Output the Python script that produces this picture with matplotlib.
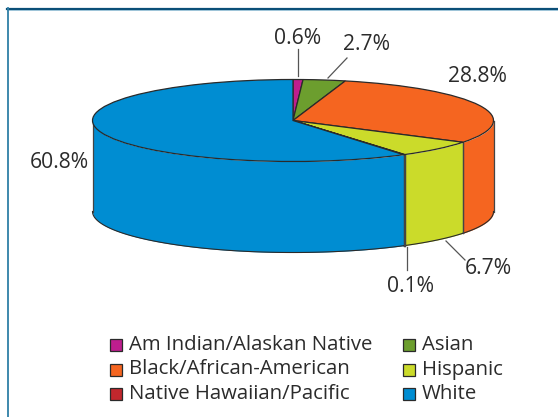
import numpy as np
import matplotlib
matplotlib.use("Agg")
import matplotlib.pyplot as plt
from matplotlib.patches import Rectangle

W, H = 558, 417
categories = ["Am Indian/Alaskan Native", "Asian", "Black/African-American",
              "Hispanic", "Native Hawaiian/Pacific", "White"]
# percentages printed on the chart
labelled = [0.6, 2.7, 28.8, 6.7, 0.1, 60.8]
# slice shares as actually drawn, estimated from the picture's geometry
drawn = [0.8, 3.4, 29.7, 6.7, 0.1, 59.3]
colors = ["#BE1E8E", "#6C9E2E", "#F56520", "#CBDB2A", "#C1272D", "#008DD2"]

CX, CY, RX, RY, DEPTH = 293, 120.5, 200.5, 41, 91
EDGE = "#2a2a2a"
TXT = "#2b2b2b"
FONT = "Open Sans"

fig = plt.figure(figsize=(W / 100, H / 100), dpi=100, facecolor="white")
ax = fig.add_axes([0, 0, 1, 1])

wedges, _ = ax.pie(drawn, colors=colors, startangle=90, counterclock=False,
                   radius=1, wedgeprops=dict(edgecolor=EDGE, linewidth=0.9, zorder=3))
ax.set_aspect("auto")
ax.set_xlim(-CX / RX, (W - CX) / RX)
ax.set_ylim((CY - H) / RY, CY / RY)
ax.axis("off")
d = DEPTH / RY

# side wall: clockwise angle from 12 o'clock
bounds = np.cumsum([0] + drawn) * 3.6
for i, col in enumerate(colors):
    a0, a1 = max(bounds[i], 90), min(bounds[i + 1], 270)
    if a1 <= a0:
        continue
    t = np.radians(np.linspace(a0, a1, 120))
    xs, ys = np.sin(t), np.cos(t)
    ax.fill_between(xs, ys, ys - d, color=col, lw=0, zorder=1)
    ax.plot(xs, ys - d, color=EDGE, lw=0.8, zorder=2)
    ax.plot([xs[0], xs[0]], [ys[0], ys[0] - d], color="#444444", lw=0.9, zorder=2)
    ax.plot([xs[-1], xs[-1]], [ys[-1], ys[-1] - d], color="#444444", lw=0.9, zorder=2)

def P(x, y):
    return x / W, 1 - y / H

# page frame: top rule to the right edge, left rule to the bottom edge
fig.add_artist(plt.Line2D([7 / W, 1], [1 - 8.5 / H] * 2, color="#0B4F78", lw=1.6))
fig.add_artist(plt.Line2D([7 / W, 1], [1 - 9.8 / H] * 2, color="#9CC3D8", lw=0.7))
fig.add_artist(plt.Line2D([7.6 / W] * 2, [0, 1 - 8 / H], color="#2F7FA6", lw=1.3))

fs = 15.2
label_pos = [(297.5, 38), (367, 45), (477, 76), (488, 269), (410, 286), (59, 162)]
for v, (x, y) in zip(labelled, label_pos):
    fig.text(*P(x, y), f"{v}%", ha="center", va="center", fontsize=fs, color=TXT, family=FONT)

leaders = [((298, 49), (298, 76)), ((347, 58), (328, 78)),
           ((446, 241), (465, 260)), ((407, 247), (407, 270))]
for (x0, y0), (x1, y1) in leaders:
    fig.add_artist(plt.Line2D([x0 / W, x1 / W], [1 - y0 / H, 1 - y1 / H],
                              color="#555555", lw=0.9))

# legend
col_x = [110, 403]
row_y = [345, 369.5, 394]
for k, name in enumerate(categories):
    x = col_x[k % 2]
    y = row_y[k // 2]
    s = 12
    fig.add_artist(Rectangle((x / W, 1 - (y + s / 2) / H), s / W, s / H,
                             transform=fig.transFigure, facecolor=colors[k],
                             edgecolor=EDGE, lw=0.9))
    fig.text((x + 19) / W, 1 - y / H, name, ha="left", va="center",
             fontsize=14.7, color=TXT, family=FONT)

fig.savefig("out.png", dpi=100)
